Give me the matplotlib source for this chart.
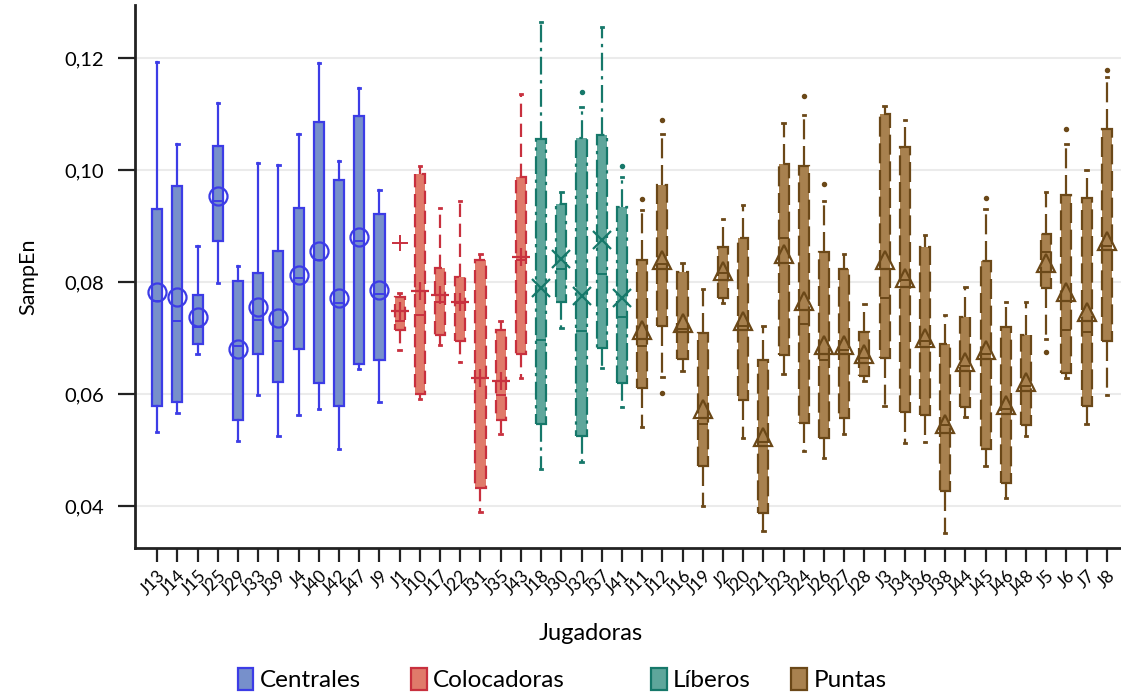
import numpy as np
import matplotlib
matplotlib.use('Agg')
import matplotlib.pyplot as plt
from matplotlib.patches import Patch
from matplotlib.ticker import FixedLocator

plt.rcParams['font.family'] = ['Lato', 'DejaVu Sans']

# Players grouped by position
centrales = ['J13', 'J14', 'J15', 'J25', 'J29', 'J33', 'J39', 'J4', 'J40', 'J42', 'J47', 'J9']
colocadoras = ['J1', 'J10', 'J17', 'J22', 'J31', 'J35', 'J43']
liberos = ['J18', 'J30', 'J32', 'J37', 'J41']
puntas = ['J11', 'J12', 'J16', 'J19', 'J2', 'J20', 'J21', 'J23', 'J24', 'J26', 'J27', 'J28',
          'J3', 'J34', 'J36', 'J38', 'J44', 'J45', 'J46', 'J48', 'J5', 'J6', 'J7', 'J8']

# SampEn summary per player: whisker low, Q1, median, Q3, whisker high, mean
whislo = [0.0533, 0.0567, 0.0671, 0.0799, 0.0517, 0.0599, 0.0525, 0.0563, 0.0574, 0.0501, 0.0644, 0.0586,
          0.0679, 0.0592, 0.0687, 0.0658, 0.0390, 0.0528, 0.0629,
          0.0466, 0.0718, 0.0479, 0.0647, 0.0576,
          0.0542, 0.0630, 0.0642, 0.0400, 0.0762, 0.0522, 0.0355, 0.0636, 0.0499, 0.0485, 0.0529, 0.0624,
          0.0578, 0.0512, 0.0515, 0.0352, 0.0559, 0.0471, 0.0414, 0.0525, 0.0698, 0.0628, 0.0546, 0.0599]
q1 = [0.0578, 0.0586, 0.0690, 0.0874, 0.0554, 0.0671, 0.0621, 0.0680, 0.0619, 0.0579, 0.0654, 0.0660,
      0.0715, 0.0600, 0.0706, 0.0695, 0.0432, 0.0554, 0.0671,
      0.0546, 0.0764, 0.0525, 0.0682, 0.0619,
      0.0610, 0.0721, 0.0662, 0.0472, 0.0772, 0.0589, 0.0387, 0.0669, 0.0549, 0.0521, 0.0557, 0.0632,
      0.0664, 0.0568, 0.0563, 0.0426, 0.0576, 0.0502, 0.0442, 0.0544, 0.0790, 0.0637, 0.0578, 0.0695]
med = [0.0767, 0.0730, 0.0719, 0.0945, 0.0685, 0.0733, 0.0695, 0.0807, 0.0839, 0.0762, 0.0874, 0.0779,
       0.0730, 0.0741, 0.0765, 0.0762, 0.0628, 0.0599, 0.0839,
       0.0697, 0.0824, 0.0713, 0.0814, 0.0737,
       0.0685, 0.0833, 0.0717, 0.0547, 0.0817, 0.0722, 0.0515, 0.0878, 0.0726, 0.0660, 0.0679, 0.0664,
       0.0772, 0.0803, 0.0695, 0.0544, 0.0650, 0.0672, 0.0573, 0.0615, 0.0854, 0.0714, 0.0711, 0.0865]
q3 = [0.0931, 0.0972, 0.0777, 0.1044, 0.0802, 0.0817, 0.0855, 0.0933, 0.1086, 0.0983, 0.1097, 0.0921,
      0.0773, 0.0993, 0.0826, 0.0809, 0.0840, 0.0715, 0.0987,
      0.1055, 0.0940, 0.1057, 0.1063, 0.0934,
      0.0839, 0.0974, 0.0818, 0.0709, 0.0863, 0.0879, 0.0660, 0.1011, 0.1007, 0.0854, 0.0823, 0.0711,
      0.1101, 0.1041, 0.0863, 0.0690, 0.0737, 0.0838, 0.0719, 0.0706, 0.0886, 0.0956, 0.0950, 0.1074]
whishi = [0.1194, 0.1047, 0.0865, 0.1120, 0.0828, 0.1012, 0.1009, 0.1065, 0.1192, 0.1017, 0.1147, 0.0964,
          0.0781, 0.1008, 0.0933, 0.0944, 0.0850, 0.0730, 0.1136,
          0.1265, 0.0961, 0.1113, 0.1256, 0.0988,
          0.0929, 0.1065, 0.0835, 0.0787, 0.0913, 0.0938, 0.0721, 0.1085, 0.1099, 0.0944, 0.0851, 0.0761,
          0.1115, 0.1090, 0.0884, 0.0741, 0.0792, 0.0930, 0.0765, 0.0764, 0.0961, 0.1047, 0.1000, 0.1166]
mean = [0.0783, 0.0773, 0.0738, 0.0953, 0.0681, 0.0756, 0.0735, 0.0813, 0.0856, 0.0772, 0.0881, 0.0786,
        0.0749, 0.0785, 0.0777, 0.0765, 0.0628, 0.0624, 0.0844,
        0.0790, 0.0842, 0.0776, 0.0875, 0.0772,
        0.0714, 0.0839, 0.0727, 0.0573, 0.0820, 0.0730, 0.0523, 0.0850, 0.0767, 0.0687, 0.0688, 0.0672,
        0.0839, 0.0807, 0.0701, 0.0546, 0.0658, 0.0679, 0.0580, 0.0621, 0.0835, 0.0783, 0.0747, 0.0874]
# outlying values by player
outliers = {'J1': [0.0869], 'J32': [0.1140], 'J41': [0.1007],
            'J11': [0.0948], 'J12': [0.1089, 0.0602], 'J24': [0.1133], 'J26': [0.0976],
            'J45': [0.0951], 'J5': [0.0676], 'J6': [0.1074], 'J8': [0.1179]}

groups = [
    ('Centrales', centrales, '#3c3ce6', '#7790cb', '-', 'o'),
    ('Colocadoras', colocadoras, '#c8303e', '#e07a6a', (0, (6, 3)), '+'),
    ('Líberos', liberos, '#16786a', '#5ea69b', (0, (8, 2.5, 1.5, 2.5)), 'x'),
    ('Puntas', puntas, '#6b4818', '#a8814f', (0, (9, 3)), '^'),
]
legend_x = [0.212, 0.367, 0.581, 0.706]

fig = plt.figure(figsize=(11.21, 6.95), dpi=100)
ax = fig.add_axes([0.1204, 0.2115, 0.8796, 0.7813])

players = centrales + colocadoras + liberos + puntas
start = 0
for (name, members, edge, fill, ls, mk), lx in zip(groups, legend_x):
    stats = []
    pos = []
    for k, p in enumerate(members):
        i = start + k
        stats.append(dict(label=p, whislo=whislo[i], q1=q1[i], med=med[i], q3=q3[i],
                          whishi=whishi[i], mean=mean[i], fliers=outliers.get(p, [])))
        pos.append(i)
    flier_mk = '+' if name == 'Colocadoras' else 'o'
    flier_ms = 11 if name == 'Colocadoras' else 2.5
    ax.bxp(stats, positions=pos, widths=0.5, patch_artist=True, showmeans=True,
           capwidths=0.12,
           boxprops=dict(facecolor=fill, edgecolor=edge, linewidth=1.6, linestyle=ls),
           whiskerprops=dict(color=edge, linewidth=1.6, linestyle=ls),
           capprops=dict(color=edge, linewidth=2),
           medianprops=dict(color=edge, linewidth=1.4),
           meanprops=dict(marker=mk, markersize=13, markerfacecolor='none',
                          markeredgecolor=edge, markeredgewidth=1.6),
           flierprops=dict(marker=flier_mk, markersize=flier_ms, markerfacecolor=edge,
                           markeredgecolor=edge, markeredgewidth=1.4))
    # one legend entry per group, spaced along the bottom
    h = Patch(facecolor=fill, edgecolor=edge, linewidth=1.6, label=name)
    fig.legend(handles=[h], loc='center left', bbox_to_anchor=(lx, 0.022),
               frameon=False, fontsize=17.5, handlelength=0.65, handleheight=1.0,
               handletextpad=0.25, borderaxespad=0, borderpad=0)
    start += len(members)

ax.set_xlim(-1.1, len(players) - 0.3)
ax.set_ylim(0.0325, 0.1295)
ax.set_xticks(range(len(players)))
ax.set_xticklabels(players, rotation=45, ha='right', rotation_mode='anchor', fontsize=12.5)
ax.yaxis.set_major_locator(FixedLocator([0.04, 0.06, 0.08, 0.10, 0.12]))
ax.set_yticklabels(['0,04', '0,06', '0,08', '0,10', '0,12'], fontsize=14.5)
ax.grid(axis='y', color='#ebebeb', linewidth=1.5)
ax.set_axisbelow(True)

for s in ['top', 'right']:
    ax.spines[s].set_visible(False)
for s in ['left', 'bottom']:
    ax.spines[s].set_linewidth(2)
    ax.spines[s].set_color('#222222')
ax.tick_params(axis='x', length=10, width=1.6, color='#222222', pad=4)
ax.tick_params(axis='y', length=12, width=1.6, color='#222222', pad=10)

ax.set_xlabel('Jugadoras', fontsize=17)
ax.xaxis.set_label_coords(0.4625, -0.138)
ax.set_ylabel('SampEn', fontsize=15.5)
ax.yaxis.set_label_coords(-0.098, 0.5)

fig.savefig('out.png', dpi=100)
